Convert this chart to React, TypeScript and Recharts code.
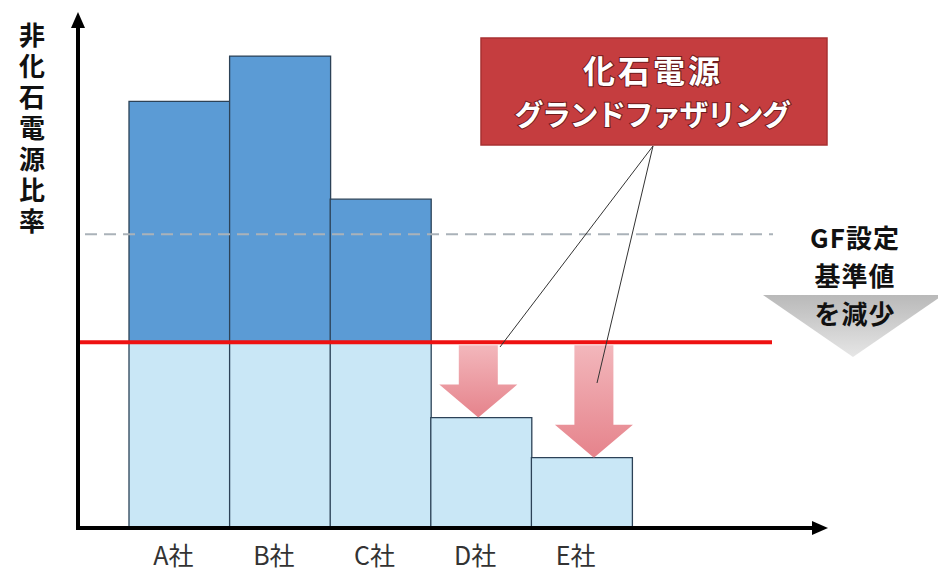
import React from "react";
import { ComposedChart, Bar, XAxis, YAxis, ReferenceLine } from "recharts";

// 各社の非化石電源比率（縦軸は相対値 0–100）
const COMPANIES = ["A社", "B社", "C社", "D社", "E社"];
const RATIOS = [85, 94, 65.5, 22, 14];
// GF設定基準値（引き下げ後）と引き下げ前
const GF_BASELINE = 37;
const GF_BASELINE_BEFORE = 58.5;

const LIGHT_BLUE = "#c9e7f6";
const DARK_BLUE = "#5b9bd5";
const BAR_EDGE = "#2c4257";
const FONT = "'Noto Sans CJK JP', 'Noto Sans', sans-serif";

// 矢印の横位置の微調整（社ごと）
const ARROW_NUDGE = [0, 0, 0, -3, 12];

const rows = COMPANIES.map((name, i) => {
  const v = RATIOS[i];
  return {
    name,
    base: Math.min(v, GF_BASELINE),
    cut: Math.max(0, GF_BASELINE - v),
    over: Math.max(0, v - GF_BASELINE),
  };
});

const CutArrow = (props: any) => {
  const { x, y, width, height, index } = props;
  if (!height || height <= 0) return null;
  const cx = x + width / 2 + (ARROW_NUDGE[index] ?? 0);
  const shaft = 19.5;
  const head = 39;
  const headLen = 33;
  const top = y + 3;
  const bottom = y + height;
  const neck = bottom - headLen;
  const d = `M${cx - shaft},${top} L${cx + shaft},${top} L${cx + shaft},${neck} L${cx + head},${neck} L${cx},${bottom} L${cx - head},${neck} L${cx - shaft},${neck} Z`;
  return <path d={d} fill="url(#cutFill)" />;
};

const CompanyTick = (props: any) => {
  const { x, y, payload } = props;
  return (
    <text x={x - 6} y={y + 37} textAnchor="middle" fontSize={25} fill="#333" fontFamily={FONT}>
      {payload.value}
    </text>
  );
};

export default function App() {
  return (
    <div style={{ position: "absolute", left: 0, top: 0, width: 938, height: 571, background: "#fff" }}>
      <svg width={0} height={0} style={{ position: "absolute" }}>
        <defs>
          <marker
            id="axisHead"
            viewBox="0 0 16 14"
            refX={2}
            refY={7}
            markerWidth={16}
            markerHeight={14}
            markerUnits="userSpaceOnUse"
            orient="auto-start-reverse"
          >
            <path d="M0,0 L16,7 L0,14 Z" fill="#000" />
          </marker>
          <linearGradient id="cutFill" x1="0" y1="0" x2="0" y2="1">
            <stop offset="0%" stopColor="#f2b3b8" stopOpacity={0.95} />
            <stop offset="100%" stopColor="#e47c85" stopOpacity={0.95} />
          </linearGradient>
          <linearGradient id="dropFill" x1="0" y1="0" x2="0" y2="1">
            <stop offset="0%" stopColor="#b9b9b9" />
            <stop offset="100%" stopColor="#e6e6e6" />
          </linearGradient>
        </defs>
      </svg>

      <ComposedChart
        width={938}
        height={571}
        data={rows}
        margin={{ top: 26, right: 124, left: 58, bottom: 3 }}
        barCategoryGap={0}
        barGap={0}
      >
        <XAxis
          dataKey="name"
          interval={0}
          height={40}
          padding={{ left: 51, right: 182 }}
          tickLine={false}
          tickSize={0}
          tickMargin={0}
          tick={<CompanyTick />}
          axisLine={{ stroke: "#000", strokeWidth: 4, strokeLinecap: "square", markerEnd: "url(#axisHead)" }}
        />
        <YAxis
          width={20}
          domain={[0, 100]}
          tick={false}
          tickLine={false}
          axisLine={{ stroke: "#000", strokeWidth: 4, strokeLinecap: "square", markerStart: "url(#axisHead)" }}
        />
        <Bar dataKey="base" stackId="s" fill={LIGHT_BLUE} stroke={BAR_EDGE} strokeWidth={1.3} isAnimationActive={false} />
        <Bar dataKey="cut" stackId="s" shape={<CutArrow />} isAnimationActive={false} />
        <Bar dataKey="over" stackId="s" fill={DARK_BLUE} stroke={BAR_EDGE} strokeWidth={1.3} isAnimationActive={false} />
        <ReferenceLine
          y={GF_BASELINE_BEFORE}
          shape={(p: any) => (
            <line x1={p.x1 + 7} y1={p.y1} x2={p.x2 - 41} y2={p.y2} stroke="#aab2b9" strokeWidth={2} strokeDasharray="12 7" />
          )}
        />
        <ReferenceLine
          y={GF_BASELINE}
          shape={(p: any) => <line x1={p.x1} y1={p.y1} x2={p.x2 - 42} y2={p.y2} stroke="#ee1111" strokeWidth={4} />}
        />
      </ComposedChart>

      <svg width={938} height={571} style={{ position: "absolute", left: 0, top: 0, pointerEvents: "none" }}>
        {/* 縦軸タイトル（縦書き） */}
        <text
          x={32}
          y={22}
          writingMode="vertical-rl"
          letterSpacing={5}
          fontSize={26}
          fontWeight="bold"
          fill="#111"
          fontFamily={FONT}
        >
          非化石電源比率
        </text>

        {/* 化石電源グランドファザリングの吹き出し */}
        <line x1={653} y1={146} x2={500} y2={347} stroke="#333" strokeWidth={1} />
        <line x1={653} y1={146} x2={597} y2={383} stroke="#333" strokeWidth={1} />
        <rect x={481} y={38} width={346} height={107} fill="#c53d3f" stroke="#a83032" strokeWidth={1.5} />
        <text
          x={653}
          y={83}
          textAnchor="middle"
          fontSize={32}
          fontWeight="bold"
          fill="#fff"
          stroke="#6e1b1d"
          strokeWidth={2}
          paintOrder="stroke"
          letterSpacing={3}
          fontFamily={FONT}
        >
          化石電源
        </text>
        <text
          x={652}
          y={126}
          textAnchor="middle"
          fontSize={29}
          fontWeight="bold"
          fill="#fff"
          stroke="#6e1b1d"
          strokeWidth={2}
          paintOrder="stroke"
          letterSpacing={-1.5}
          fontFamily={FONT}
        >
          グランドファザリング
        </text>

        {/* GF設定基準値の引き下げ */}
        <path d="M763,295 L943,295 L853,357 Z" fill="url(#dropFill)" />
        <g fontSize={26} fontWeight="bold" fill="#111" textAnchor="middle" fontFamily={FONT} letterSpacing={1}>
          <text x={855} y={248}>GF設定</text>
          <text x={855} y={286}>基準値</text>
          <text x={855} y={324}>を減少</text>
        </g>
      </svg>
    </div>
  );
}
